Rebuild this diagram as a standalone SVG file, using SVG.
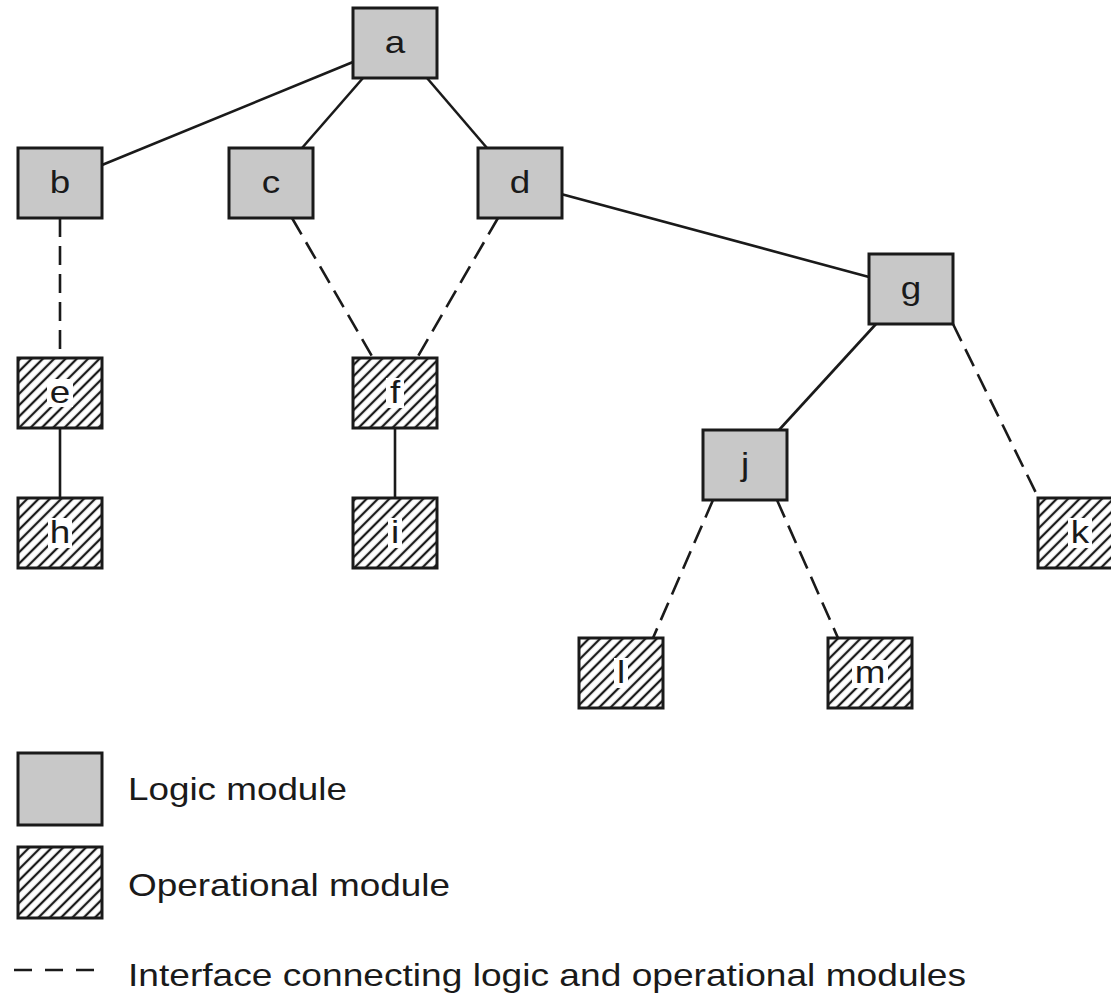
<svg xmlns="http://www.w3.org/2000/svg" width="1111" height="993" viewBox="0 0 1111 993">
<style>
.logic{fill:#c8c8c8;stroke:#1a1a1a;stroke-width:3}
.op{fill:url(#hatch);stroke:#1a1a1a;stroke-width:3}
.bg{fill:#ffffff;stroke:none}
.lbl{font-family:"Liberation Sans",Arial,sans-serif;font-size:32px;fill:#1a1a1a;text-anchor:middle}
.leg{font-family:"Liberation Sans",Arial,sans-serif;font-size:32px;fill:#1a1a1a}
.solid{fill:none;stroke:#1a1a1a;stroke-width:2.6}
.dash{fill:none;stroke:#1a1a1a;stroke-width:2.6;stroke-dasharray:19 9}
</style>
<defs>
<pattern id="hatch" patternUnits="userSpaceOnUse" width="8" height="10" patternTransform="rotate(45)">
<rect width="8" height="10" fill="#ffffff"/>
<line x1="4" y1="-1" x2="4" y2="11" stroke="#1a1a1a" stroke-width="2.3"/>
</pattern>
</defs>
<rect width="1111" height="993" fill="#ffffff"/>
<g id="connectors">
<path class="solid" d="M353 62 L102 165"/>
<path class="solid" d="M363 78 L302 148"/>
<path class="solid" d="M427 78 L487 148"/>
<path class="solid" d="M561 194 L869 277"/>
<path class="solid" d="M876 324 L779 430"/>
<path class="solid" d="M60 428 L60 498"/>
<path class="solid" d="M395 428 L395 498"/>
<path class="dash" d="M60 218 L60 358"/>
<path class="dash" d="M292 218 L373 358"/>
<path class="dash" d="M498 218 L417 358"/>
<path class="dash" d="M953 324 L1038 497"/>
<path class="dash" d="M713 500 L653 638"/>
<path class="dash" d="M777 500 L838 638"/>
</g>
<g id="node-a"><rect class="logic" x="353" y="8" width="84" height="70"/><text class="lbl" transform="translate(395 53) scale(1.15 1)">a</text></g>
<g id="node-b"><rect class="logic" x="18" y="148" width="84" height="70"/><text class="lbl" transform="translate(60 193) scale(1.15 1)">b</text></g>
<g id="node-c"><rect class="logic" x="229" y="148" width="84" height="70"/><text class="lbl" transform="translate(271 193) scale(1.15 1)">c</text></g>
<g id="node-d"><rect class="logic" x="478" y="148" width="84" height="70"/><text class="lbl" transform="translate(520 193) scale(1.15 1)">d</text></g>
<g id="node-g"><rect class="logic" x="869" y="254" width="84" height="70"/><text class="lbl" transform="translate(911 299) scale(1.15 1)">g</text></g>
<g id="node-j"><rect class="logic" x="703" y="430" width="84" height="70"/><text class="lbl" transform="translate(745 475) scale(1.15 1)">j</text></g>
<g id="node-e"><rect class="op" x="18" y="358" width="84" height="70"/><rect class="bg" x="47" y="379" width="26" height="28"/><text class="lbl" transform="translate(60 403) scale(1.15 1)">e</text></g>
<g id="node-f"><rect class="op" x="353" y="358" width="84" height="70"/><rect class="bg" x="386" y="378" width="18" height="30"/><text class="lbl" transform="translate(395 403) scale(1.15 1)">f</text></g>
<g id="node-h"><rect class="op" x="18" y="498" width="84" height="70"/><rect class="bg" x="48" y="518" width="24" height="30"/><text class="lbl" transform="translate(60 543) scale(1.15 1)">h</text></g>
<g id="node-i"><rect class="op" x="353" y="498" width="84" height="70"/><rect class="bg" x="388" y="518" width="14" height="30"/><text class="lbl" transform="translate(395 543) scale(1.15 1)">i</text></g>
<g id="node-k"><rect class="op" x="1038" y="498" width="84" height="70"/><rect class="bg" x="1068" y="518" width="24" height="30"/><text class="lbl" transform="translate(1080 543) scale(1.15 1)">k</text></g>
<g id="node-l"><rect class="op" x="579" y="638" width="84" height="70"/><rect class="bg" x="614" y="658" width="14" height="30"/><text class="lbl" transform="translate(621 683) scale(1.15 1)">l</text></g>
<g id="node-m"><rect class="op" x="828" y="638" width="84" height="70"/><rect class="bg" x="852" y="660" width="36" height="28"/><text class="lbl" transform="translate(870 683) scale(1.15 1)">m</text></g>
<g id="legend">
<rect class="logic" x="18" y="753" width="84" height="72"/>
<text class="leg" x="128" y="800" textLength="219" lengthAdjust="spacingAndGlyphs">Logic module</text>
<rect class="op" x="18" y="847" width="84" height="71"/>
<text class="leg" x="128" y="896" textLength="322" lengthAdjust="spacingAndGlyphs">Operational module</text>
<path d="M14 970 L94 970" fill="none" stroke="#1a1a1a" stroke-width="2.6" stroke-dasharray="18 13"/>
<text class="leg" x="128" y="986" textLength="838" lengthAdjust="spacingAndGlyphs">Interface connecting logic and operational modules</text>
</g>
</svg>
